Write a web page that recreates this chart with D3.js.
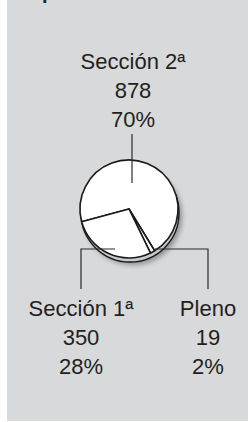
<!DOCTYPE html>
<html>
<head>
<meta charset="utf-8">
<script src="https://cdn.jsdelivr.net/npm/d3@7"></script>
<style>
  body { margin: 0; background: #fff; }
  svg { display: block; }
  text { font-family: "Liberation Sans", Arial, sans-serif; fill: #231f20; }
</style>
</head>
<body>
<div id="chart"></div>
<script>
// data
var categories = ["Sección 2ª", "Pleno", "Sección 1ª"];
var values = [878, 19, 350];
var percents = ["70%", "2%", "28%"];

var W = 248, H = 422;
var cx = 129, cy = 209, r = 49;

var svg = d3.select('#chart').append('svg').attr('width', W).attr('height', H);

var defs = svg.append('defs');
defs.append('filter').attr('id', 'blur')
  .attr('x', '-30%').attr('y', '-30%').attr('width', '160%').attr('height', '160%')
  .append('feGaussianBlur').attr('stdDeviation', 2.5);

// gray panel
svg.append('rect').attr('x', 7).attr('y', 0).attr('width', W - 7).attr('height', 421)
  .attr('fill', '#d8d9db');

// bit of the title cut off at the top
svg.append('text').attr('x', 42).attr('y', -1.5)
  .style('font-size', '20px').style('font-weight', 'bold').text('p');

var data = categories.map(function(c, i) {
  return { name: c, value: values[i], pct: percents[i] };
});

var pie = d3.pie().sort(null).value(function(d) { return d.value; })
  .startAngle(-105 * Math.PI / 180).endAngle(255 * Math.PI / 180);
var arc = d3.arc().innerRadius(0).outerRadius(r);
var arcs = pie(data);

var g = svg.append('g').attr('transform', 'translate(' + cx + ',' + cy + ')');

// shadow + rim for the 3d look
g.append('circle').attr('cx', 4).attr('cy', 7).attr('r', r)
  .attr('fill', '#7d7e80').attr('opacity', 0.8).attr('filter', 'url(#blur)');
g.append('circle').attr('cx', 1).attr('cy', 4).attr('r', r)
  .attr('fill', '#c9cacc').attr('stroke', '#1a1a1a').attr('stroke-width', 1.4);

g.selectAll('path.slice').data(arcs).enter().append('path')
  .attr('class', 'slice')
  .attr('d', arc)
  .attr('fill', '#fff')
  .attr('stroke', '#1a1a1a')
  .attr('stroke-width', 1.6)
  .attr('stroke-linejoin', 'round');

// leader lines
var leaders = [
  [[132, 134], [132, 183]],
  [[115, 249], [81, 249], [81, 289]],
  [[155, 249], [208, 249], [208, 289]]
];
var line = d3.line();
svg.selectAll('path.leader').data(leaders).enter().append('path')
  .attr('class', 'leader')
  .attr('d', line)
  .attr('fill', 'none')
  .attr('stroke', '#2a2a2a')
  .attr('stroke-width', 1.2);

// labels: [category index, x, first baseline]
var labelPos = { "Sección 2ª": [133, 69], "Sección 1ª": [81, 316], "Pleno": [208, 316] };
data.forEach(function(d) {
  var p = labelPos[d.name];
  var t = svg.append('text').attr('text-anchor', 'middle').style('font-size', '22px');
  [d.name, d.value, d.pct].forEach(function(s, i) {
    t.append('tspan').attr('x', p[0]).attr('y', p[1] + i * 28.8).text(s);
  });
});
</script>
</body>
</html>
